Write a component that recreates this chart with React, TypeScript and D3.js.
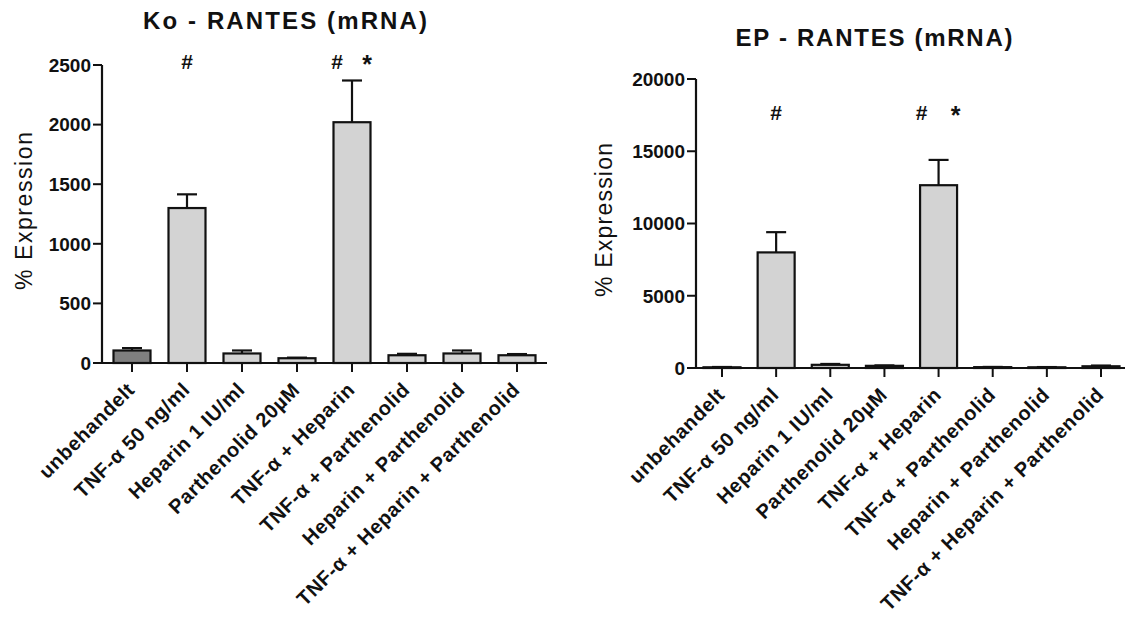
import React from "react";
import * as d3 from "d3";

const categories = [
  "unbehandelt",
  "TNF-α 50 ng/ml",
  "Heparin 1 IU/ml",
  "Parthenolid 20µM",
  "TNF-α + Heparin",
  "TNF-α + Parthenolid",
  "Heparin + Parthenolid",
  "TNF-α + Heparin + Parthenolid",
];

const koValues = [105, 1300, 80, 40, 2020, 65, 80, 65];
const koErrors = [20, 115, 25, 5, 350, 12, 25, 10];
const koTicks = [0, 500, 1000, 1500, 2000, 2500];

const epValues = [50, 8000, 220, 150, 12650, 60, 50, 120];
const epErrors = [20, 1400, 60, 30, 1750, 15, 15, 50];
const epTicks = [0, 5000, 10000, 15000, 20000];

const hashMarks = [false, true, false, false, true, false, false, false];
const starMarks = [false, false, false, false, true, false, false, false];

const FONT = "'Liberation Sans', Arial, sans-serif";

type PanelProps = {
  title: string;
  values: number[];
  errors: number[];
  ticks: number[];
  axisX: number;
  axisEnd: number;
  firstTick: number;
  lastTick: number;
  yTop: number;
  yZero: number;
  titleX: number;
  titleY: number;
  titleLen: number;
  labelX: number;
  labelY: number;
  labelLen: number;
  markY: number;
  markOffset: number;
};

const Panel: React.FC<PanelProps> = (p) => {
  const x = d3.scalePoint<string>().domain(categories).range([p.firstTick, p.lastTick]);
  const y = d3
    .scaleLinear()
    .domain([0, p.ticks[p.ticks.length - 1]])
    .range([p.yZero, p.yTop]);
  const barW = 37;
  const capW = 20;

  return (
    <g fontFamily={FONT} fill="#111">
      <text
        x={p.titleX}
        y={p.titleY}
        textAnchor="middle"
        fontSize={24}
        fontWeight="bold"
        textLength={p.titleLen}
        lengthAdjust="spacing"
      >
        {p.title}
      </text>
      <text
        transform={`translate(${p.labelX},${p.labelY}) rotate(-90)`}
        textAnchor="middle"
        fontSize={23}
        textLength={p.labelLen}
        lengthAdjust="spacing"
      >
        % Expression
      </text>

      {/* error bars first, bars drawn over them */}
      {categories.map((c, i) => {
        const cx = x(c)!;
        const top = y(p.values[i] + p.errors[i]);
        return (
          <g key={"e" + i} stroke="#111" strokeWidth={2.2}>
            <line x1={cx} x2={cx} y1={y(p.values[i])} y2={top} />
            <line x1={cx - capW / 2} x2={cx + capW / 2} y1={top} y2={top} />
          </g>
        );
      })}
      {categories.map((c, i) => (
        <rect
          key={"b" + i}
          x={x(c)! - barW / 2}
          y={y(p.values[i])}
          width={barW}
          height={Math.max(0, p.yZero - y(p.values[i]))}
          fill={i === 0 ? "#7f7f7f" : "#d3d3d3"}
          stroke="#111"
          strokeWidth={2.2}
        />
      ))}

      {/* y axis */}
      <line x1={p.axisX} x2={p.axisX} y1={p.yTop} y2={p.yZero} stroke="#111" strokeWidth={2.2} />
      {p.ticks.map((t) => (
        <g key={"yt" + t}>
          <line x1={p.axisX - 9} x2={p.axisX} y1={y(t)} y2={y(t)} stroke="#111" strokeWidth={2} />
          <text
            x={p.axisX - 11}
            y={y(t)}
            dy="0.36em"
            textAnchor="end"
            fontSize={19}
            fontWeight="bold"
          >
            {t}
          </text>
        </g>
      ))}

      {/* x axis */}
      <line x1={p.axisX} x2={p.axisEnd} y1={p.yZero} y2={p.yZero} stroke="#111" strokeWidth={2.2} />
      {categories.map((c) => (
        <g key={"xt" + c}>
          <line x1={x(c)!} x2={x(c)!} y1={p.yZero} y2={p.yZero + 9} stroke="#111" strokeWidth={2} />
          <text
            transform={`translate(${x(c)! + 4},${p.yZero + 28}) rotate(-45)`}
            textAnchor="end"
            fontSize={20}
            fontWeight="bold"
            letterSpacing={0.6}
          >
            {c}
          </text>
        </g>
      ))}

      {/* significance marks */}
      {categories.map((c, i) => {
        const cx = x(c)!;
        const both = hashMarks[i] && starMarks[i];
        return (
          <g key={"m" + i} fontSize={21} fontWeight="bold">
            {hashMarks[i] && (
              <text x={both ? cx - p.markOffset : cx} y={p.markY} textAnchor="middle">
                #
              </text>
            )}
            {starMarks[i] && (
              <text x={cx + p.markOffset} y={p.markY + 4} textAnchor="middle" fontSize={25}>
                *
              </text>
            )}
          </g>
        );
      })}
    </g>
  );
};

export default function App() {
  return (
    <svg
      width={1127}
      height={622}
      style={{ position: "absolute", left: 0, top: 0, background: "#fff" }}
    >
      <rect width={1127} height={622} fill="#fff" />
      <Panel
        title="Ko - RANTES (mRNA)"
        values={koValues}
        errors={koErrors}
        ticks={koTicks}
        axisX={102}
        axisEnd={547}
        firstTick={132}
        lastTick={517}
        yTop={65}
        yZero={363}
        titleX={285}
        titleY={29}
        titleLen={284}
        labelX={32}
        labelY={211}
        labelLen={158}
        markY={69}
        markOffset={15}
      />
      <Panel
        title="EP - RANTES (mRNA)"
        values={epValues}
        errors={epErrors}
        ticks={epTicks}
        axisX={696}
        axisEnd={1125}
        firstTick={722}
        lastTick={1101}
        yTop={79}
        yZero={368}
        titleX={874}
        titleY={46}
        titleLen={277}
        labelX={612}
        labelY={220}
        labelLen={154}
        markY={120}
        markOffset={17}
      />
    </svg>
  );
}
